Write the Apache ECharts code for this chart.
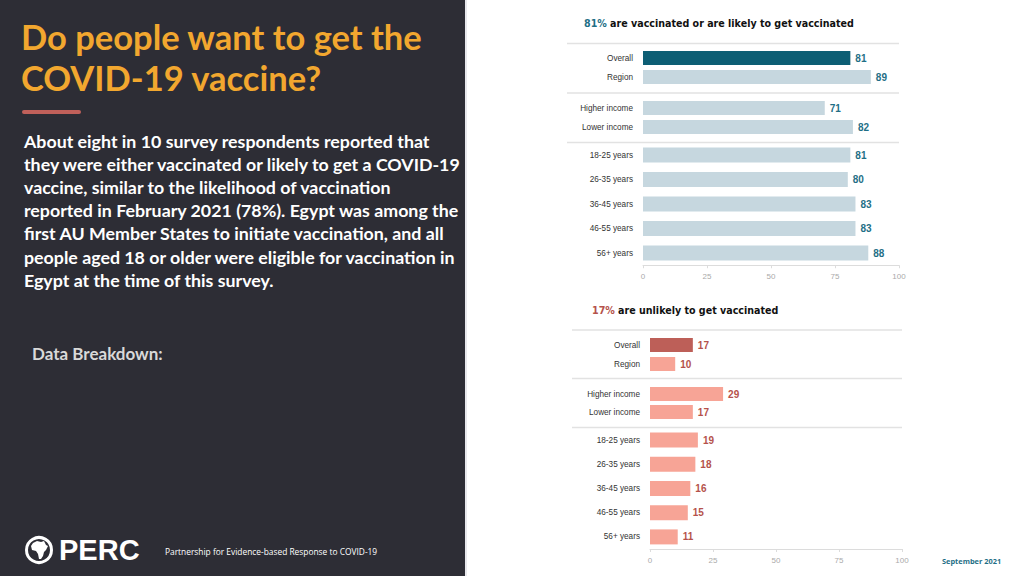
<!DOCTYPE html>
<html><head><meta charset="utf-8">
<script src="https://cdn.jsdelivr.net/npm/echarts@6/dist/echarts.min.js"></script>
<style>html,body{margin:0;padding:0;background:#fff}#c{width:1024px;height:576px}</style>
</head><body><div id="c"></div>
<script>
const groupLabels = [
  ['Overall', 'Region'],
  ['Higher income', 'Lower income'],
  ['18-25 years', '26-35 years', '36-45 years', '46-55 years', '56+ years']
];
const likelyValues = [[81, 89], [71, 82], [81, 80, 83, 83, 88]];
const unlikelyValues = [[17, 10], [29, 17], [19, 18, 16, 15, 11]];
const axisTicks = [0, 25, 50, 75, 100];
const likelyTitle = ['81%', ' are vaccinated or are likely to get vaccinated'];
const unlikelyTitle = ['17%', ' are unlikely to get vaccinated'];
const pageTitle = ['Do people want to get the', 'COVID-19 vaccine?'];
const paragraph = [
  'About eight in 10 survey respondents reported that',
  'they were either vaccinated or likely to get a COVID-19',
  'vaccine, similar to the likelihood of vaccination',
  'reported in February 2021 (78%). Egypt was among the',
  'first AU Member States to initiate vaccination, and all',
  'people aged 18 or older were eligible for vaccination in',
  'Egypt at the time of this survey.'
];

const chart = echarts.init(document.getElementById('c'), null, {renderer: 'svg'});

const topGrids = [
  {top: 48.5, height: 38}, {top: 98.5, height: 38}, {top: 142.75, height: 122.5}
];
const botGrids = [
  {top: 335.5, height: 38}, {top: 385, height: 36}, {top: 428, height: 121}
];
const grids = [], xAxes = [], yAxes = [], series = [];
function addChart(gridDefs, values, left, width, mainColor, lightColor, labelColor) {
  gridDefs.forEach((g, gi) => {
    const idx = grids.length;
    grids.push({left: left, width: width, top: g.top, height: g.height, containLabel: false});
    const last = gi === gridDefs.length - 1;
    xAxes.push({
      type: 'value', gridIndex: idx, min: axisTicks[0], max: axisTicks[axisTicks.length - 1],
      interval: axisTicks[1] - axisTicks[0],
      show: last,
      axisLine: {show: true, lineStyle: {color: '#dcdcdc'}},
      axisTick: {show: true, length: 3, lineStyle: {color: '#dcdcdc'}},
      splitLine: {show: false},
      axisLabel: {color: '#aaaaaa', fontSize: 8, margin: 7, fontFamily: 'Liberation Sans'}
    });
    yAxes.push({
      type: 'category', gridIndex: idx, inverse: true, data: groupLabels[gi],
      axisLine: {show: false}, axisTick: {show: false},
      axisLabel: {color: '#333', fontSize: 8.2, margin: 10, fontFamily: 'Liberation Sans'}
    });
    series.push({
      type: 'bar', xAxisIndex: idx, yAxisIndex: idx, barWidth: gi === 2 ? 15 : 14,
      data: values[gi].map((v, i) => ({value: v, itemStyle: {color: (gi === 0 && i === 0) ? mainColor : lightColor}})),
      label: {show: true, position: 'right', distance: 5, color: labelColor, fontWeight: 'bold', fontSize: 10, fontFamily: 'Liberation Sans'},
      silent: true
    });
  });
}
addChart(topGrids, likelyValues, 643, 256, '#0d5e74', '#c6d7df', '#1f6f86');
addChart(botGrids, unlikelyValues, 650, 252, '#bd5f58', '#f7a496', '#b5524b');

function sep(x1, x2, y) {
  return {type: 'line', shape: {x1: x1, y1: y, x2: x2, y2: y}, style: {stroke: '#e2e2e2', lineWidth: 1.5}, silent: true};
}
const titleFont = 'bold 10.6px "DejaVu Sans Condensed", "Liberation Sans"';
const graphic = [
  {type: 'rect', shape: {x: 0, y: 0, width: 465, height: 576}, style: {fill: '#2d2d35'}, z: -10},
  {type: 'rect', shape: {x: 465, y: 0, width: 2, height: 576}, style: {fill: '#e8e8ec'}, z: -10},
  {type: 'text', x: 21, y: 15.5, style: {text: pageTitle.join('\n'), fill: '#f2a72f', font: 'bold 34.5px Lato', lineHeight: 41.6, textVerticalAlign: 'top'}},
  {type: 'rect', shape: {x: 22, y: 110, width: 59, height: 4, r: 2}, style: {fill: '#c0605a'}},
  {type: 'text', x: 24, y: 129, style: {text: paragraph.join('\n'), fill: '#ffffff', font: 'bold 17.8px Lato', lineHeight: 23.2, textVerticalAlign: 'top'}},
  {type: 'text', x: 32, y: 345, style: {text: 'Data Breakdown:', fill: '#d9d9d9', font: 'bold 17px Lato', textVerticalAlign: 'top'}},
  // PERC logo
  {type: 'circle', shape: {cx: 39, cy: 550, r: 12.5}, style: {fill: 'none', stroke: '#ffffff', lineWidth: 3}},
  {type: 'polygon', shape: {points: [[33,543],[37,541],[41,542],[44,541],[46,545],[48,546],[46,550],[44,552],[43,556],[41,559],[39,559],[38,554],[36,551],[32,550],[31,546]]}, style: {fill: '#ffffff'}},
  {type: 'text', x: 59, y: 535, style: {text: 'PERC', fill: '#ffffff', font: 'bold 29px "Liberation Sans"', textVerticalAlign: 'top'}},
  {type: 'text', x: 165, y: 547, style: {text: 'Partnership for Evidence-based Response to COVID-19', fill: '#ffffff', font: '8.4px "Open Sans"', textVerticalAlign: 'top'}},
  {type: 'text', x: 942, y: 557, style: {text: 'September 2021', fill: '#1f6f86', font: 'bold 7.4px "Open Sans"', textVerticalAlign: 'top'}},
  {type: 'text', x: 584, y: 17, style: {
    text: '{a|' + likelyTitle[0] + '}{b|' + likelyTitle[1] + '}',
    rich: {a: {fill: '#1f6f86', font: titleFont}, b: {fill: '#111', font: titleFont}},
    textVerticalAlign: 'top'}},
  {type: 'text', x: 592, y: 304, style: {
    text: '{a|' + unlikelyTitle[0] + '}{b|' + unlikelyTitle[1] + '}',
    rich: {a: {fill: '#b5524b', font: titleFont}, b: {fill: '#111', font: titleFont}},
    textVerticalAlign: 'top'}},
  sep(567, 899, 43.5), sep(567, 899, 93), sep(567, 899, 142.5),
  sep(572, 902, 330), sep(572, 902, 378.5), sep(572, 902, 427.5)
];

chart.setOption({
  animation: false,
  grid: grids, xAxis: xAxes, yAxis: yAxes, series: series, graphic: graphic
});
</script></body></html>
